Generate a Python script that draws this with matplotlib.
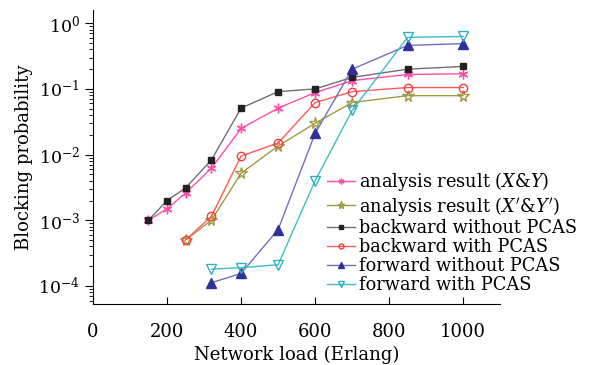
import matplotlib.pyplot as plt
import numpy as np

plt.rcParams['font.family'] = ['DejaVu Serif']
plt.rcParams['mathtext.fontset'] = 'dejavuserif'

x_a = [150, 200, 250, 320, 400, 500, 600, 700, 850, 1000]
xy_a = [1e-3, 1.5e-3, 2.6e-3, 6.2e-3, 2.5e-2, 5.1e-2, 8.8e-2, 0.134, 0.166, 0.17]
back_wo = [1e-3, 2e-3, 3.1e-3, 8.3e-3, 5.1e-2, 9.1e-2, 0.1, 0.15, 0.2, 0.22]

x_b = [250, 320, 400, 500, 600, 700, 850, 1000]
xy_p = [5e-4, 1e-3, 5.2e-3, 1.35e-2, 3e-2, 6.2e-2, 7.9e-2, 7.9e-2]
back_w = [5e-4, 1.15e-3, 9.5e-3, 1.5e-2, 6.2e-2, 9.1e-2, 0.105, 0.105]

x_c = [320, 400, 500, 600, 700, 850, 1000]
fwd_wo = [1.12e-4, 1.55e-4, 7.2e-4, 2.1e-2, 0.2, 0.46, 0.49]
fwd_w = [1.8e-4, 1.9e-4, 2.1e-4, 4e-3, 4.7e-2, 0.61, 0.63]

fig = plt.figure(figsize=(5.92, 3.65), dpi=100)
ax = fig.add_axes([0.157, 0.167, 0.688, 0.806])

ax.plot(x_a, xy_a, color='#ff4fa8', marker=(6, 2, 0), ms=7, mew=1.0, lw=1.0,
        label='analysis result ($X$&$Y$)')
ax.plot(x_b, xy_p, color='#a09a40', marker='*', ms=8.5, mfc='none', mew=1.0, lw=1.0,
        label="analysis result ($X'$&$Y'$)")
ax.plot(x_a, back_wo, color='#707070', marker='s', ms=5, mfc='#222222', mec='#222222', lw=1.0,
        label='backward without PCAS')
ax.plot(x_b, back_w, color='#ff5a5a', marker='o', ms=6, mfc='none', mec='#ee4040', mew=1.0, lw=1.0,
        label='backward with PCAS')
ax.plot(x_c, fwd_wo, color='#7070c0', marker='^', ms=7, mfc='#30309a', mec='#30309a', lw=1.0,
        label='forward without PCAS')
ax.plot(x_c, fwd_w, color='#40bcc8', marker='v', ms=7.5, mfc='none', mec='#30b0c0', mew=1.0, lw=1.0,
        label='forward with PCAS')

ax.set_yscale('log')
ax.set_xlim(0, 1100)
ax.set_ylim(5.3e-5, 1.6)
ax.set_xticks([0, 200, 400, 600, 800, 1000])
ax.spines['top'].set_visible(False)
ax.spines['right'].set_visible(False)
ax.tick_params(axis='x', direction='in', length=5, labelsize=13, pad=14)
ax.tick_params(axis='y', which='major', direction='out', length=6, labelsize=12.5)
ax.tick_params(axis='y', which='minor', direction='out', length=3)
ax.set_xlabel('Network load (Erlang)', fontsize=13, labelpad=3)
ax.set_ylabel('Blocking probability', fontsize=13, labelpad=4)

fig.legend(loc='upper left', bbox_to_anchor=(0.54, 0.553), frameon=False,
           fontsize=12.8, handlelength=1.6, handletextpad=0.2, labelspacing=0.07,
           markerscale=0.6, borderaxespad=0)

fig.savefig('out.png', dpi=100)
